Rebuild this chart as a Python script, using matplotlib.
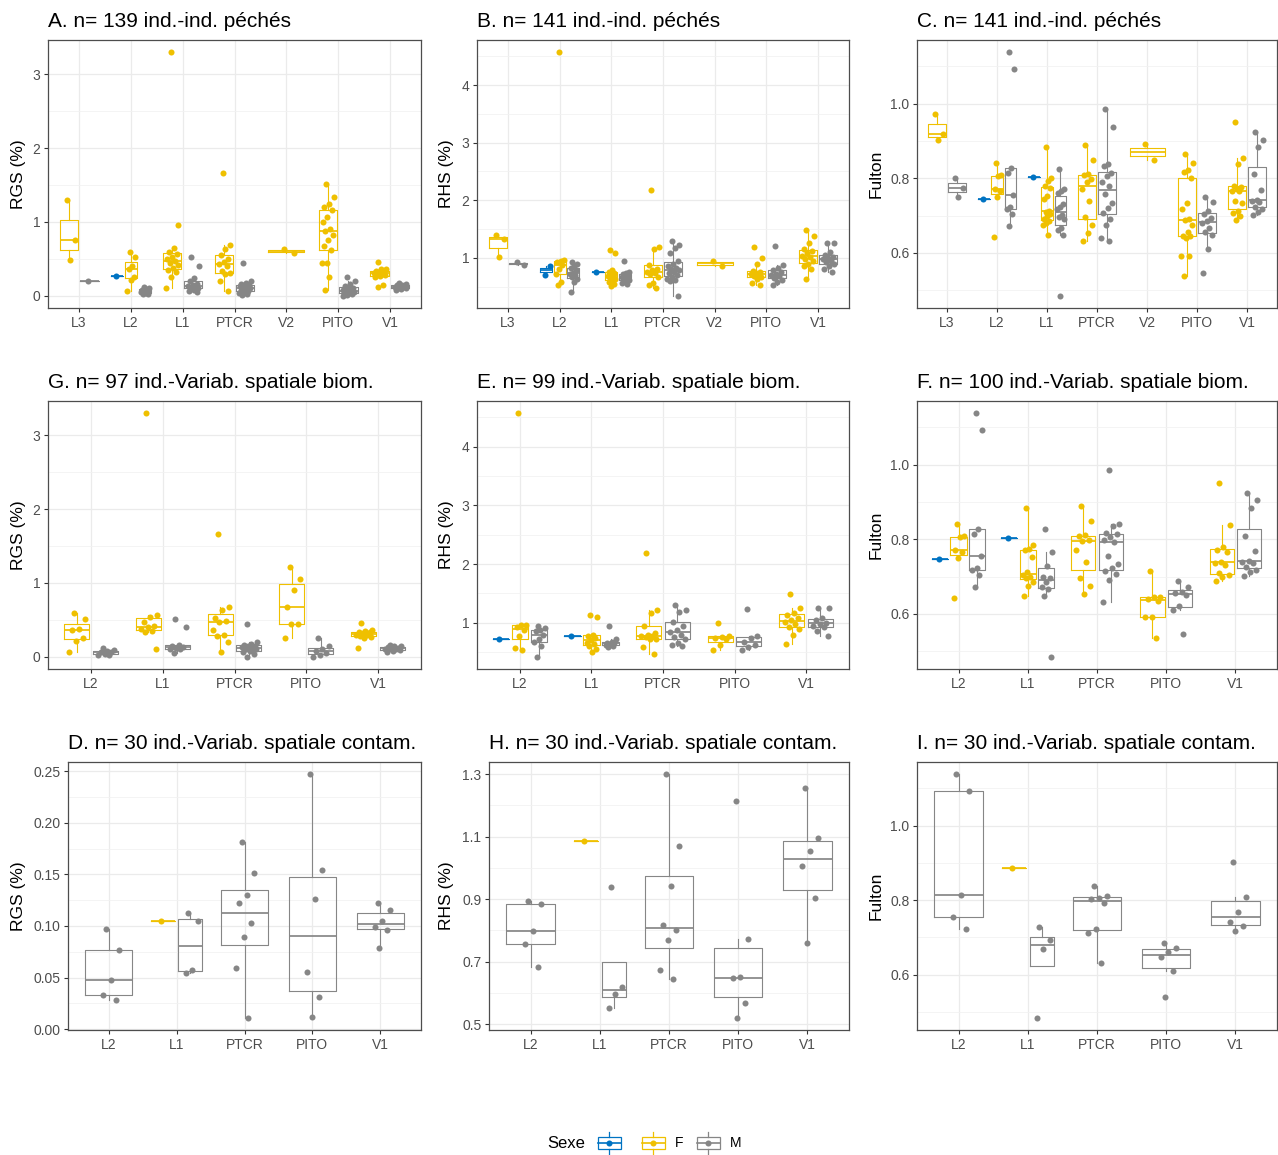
import matplotlib
matplotlib.use("Agg")
import matplotlib.pyplot as plt
import numpy as np
from matplotlib.ticker import FixedLocator, FormatStrFormatter
from matplotlib.patches import Rectangle

plt.rcParams['font.family'] = ['Liberation Sans', 'DejaVu Sans']

# ---------------- data ----------------
sites_top = ["L3", "L2", "L1", "PTCR", "V2", "PITO", "V1"]
sites_sub = ["L2", "L1", "PTCR", "PITO", "V1"]
sex_levels = ["", "F", "M"]

# A. RGS, all fished individuals
A_U = {"L2": [0.27]}
A_F = {"L3": [1.30, 0.75, 0.49],
       "L2": [0.60, 0.52, 0.40, 0.37, 0.26, 0.22, 0.06],
       "L1": [3.30, 0.96, 0.65, 0.60, 0.56, 0.53, 0.50, 0.47, 0.45, 0.42, 0.38, 0.35, 0.32, 0.25, 0.10],
       "PTCR": [1.66, 0.69, 0.64, 0.55, 0.50, 0.46, 0.43, 0.40, 0.34, 0.31, 0.29, 0.20, 0.07],
       "V2": [0.64, 0.585],
       "PITO": [1.52, 1.34, 1.24, 1.20, 1.16, 1.07, 1.00, 0.90, 0.88, 0.82, 0.76, 0.68, 0.62, 0.44, 0.44, 0.25, 0.08],
       "V1": [0.46, 0.37, 0.36, 0.34, 0.33, 0.32, 0.31, 0.30, 0.29, 0.28, 0.27, 0.25, 0.14, 0.12]}
A_M = {"L3": [0.20],
       "L2": [0.12, 0.10, 0.09, 0.08, 0.07, 0.06, 0.05, 0.04, 0.03, 0.02],
       "L1": [0.52, 0.41, 0.24, 0.20, 0.16, 0.14, 0.13, 0.12, 0.11, 0.10, 0.08, 0.06, 0.05],
       "PTCR": [0.44, 0.20, 0.18, 0.16, 0.15, 0.14, 0.13, 0.12, 0.11, 0.10, 0.09, 0.08, 0.07, 0.06, 0.04, 0.02, 0.01],
       "PITO": [0.25, 0.20, 0.16, 0.13, 0.11, 0.09, 0.08, 0.07, 0.06, 0.05, 0.04, 0.03, 0.02, 0.01, 0.00],
       "V1": [0.18, 0.16, 0.15, 0.14, 0.13, 0.13, 0.12, 0.12, 0.11, 0.10, 0.09, 0.08]}

# B. RHS, all fished individuals
B_U = {"L2": [0.71, 0.86], "L1": [0.76]}
B_F = {"L3": [1.40, 1.33, 1.02],
       "L2": [4.57, 0.97, 0.95, 0.93, 0.88, 0.80, 0.72, 0.58, 0.53],
       "L1": [1.14, 1.09, 0.78, 0.76, 0.74, 0.71, 0.69, 0.67, 0.65, 0.63, 0.61, 0.58, 0.55, 0.51],
       "PTCR": [2.17, 1.19, 1.15, 0.87, 0.80, 0.78, 0.76, 0.74, 0.72, 0.67, 0.57, 0.53, 0.47],
       "V2": [0.95, 0.86],
       "PITO": [1.19, 1.00, 0.89, 0.77, 0.75, 0.74, 0.72, 0.71, 0.69, 0.67, 0.63, 0.56, 0.52],
       "V1": [1.48, 1.37, 1.26, 1.15, 1.12, 1.08, 1.04, 1.02, 0.98, 0.94, 0.90, 0.86, 0.80, 0.63]}
B_M = {"L3": [0.93, 0.87],
       "L2": [0.93, 0.90, 0.86, 0.82, 0.78, 0.74, 0.72, 0.70, 0.66, 0.63, 0.58, 0.40],
       "L1": [0.94, 0.76, 0.74, 0.72, 0.70, 0.68, 0.66, 0.65, 0.63, 0.61, 0.59, 0.57, 0.55],
       "PTCR": [1.30, 1.22, 1.17, 1.08, 0.94, 0.90, 0.86, 0.83, 0.80, 0.78, 0.76, 0.73, 0.70, 0.67, 0.64, 0.62, 0.60, 0.34],
       "PITO": [1.21, 0.88, 0.82, 0.78, 0.75, 0.72, 0.70, 0.68, 0.65, 0.62, 0.58, 0.53],
       "V1": [1.26, 1.25, 1.10, 1.05, 1.02, 1.00, 0.98, 0.95, 0.92, 0.90, 0.85, 0.80, 0.75]}

# C. Fulton, all fished individuals
C_U = {"L2": [0.745], "L1": [0.804]}
C_F = {"L3": [0.971, 0.918, 0.903],
       "L2": [0.842, 0.808, 0.805, 0.770, 0.765, 0.750, 0.642],
       "L1": [0.885, 0.800, 0.792, 0.778, 0.775, 0.753, 0.745, 0.713, 0.710, 0.705, 0.698, 0.690, 0.685, 0.680, 0.676, 0.648],
       "PTCR": [0.888, 0.849, 0.811, 0.808, 0.797, 0.790, 0.770, 0.739, 0.696, 0.675, 0.653, 0.633],
       "V2": [0.892, 0.849],
       "PITO": [0.865, 0.842, 0.821, 0.818, 0.800, 0.733, 0.717, 0.690, 0.688, 0.675, 0.655, 0.646, 0.644, 0.640, 0.593, 0.591, 0.537],
       "V1": [0.952, 0.854, 0.838, 0.780, 0.776, 0.772, 0.767, 0.765, 0.738, 0.733, 0.712, 0.706, 0.700, 0.688]}
C_M = {"L3": [0.800, 0.775, 0.749],
       "L2": [1.138, 1.093, 0.827, 0.815, 0.756, 0.722, 0.718, 0.703, 0.671],
       "L1": [0.824, 0.770, 0.765, 0.760, 0.731, 0.722, 0.717, 0.702, 0.695, 0.690, 0.668, 0.662, 0.648, 0.485],
       "PTCR": [0.985, 0.938, 0.838, 0.832, 0.813, 0.806, 0.791, 0.780, 0.757, 0.733, 0.720, 0.708, 0.691, 0.675, 0.639, 0.633],
       "PITO": [0.749, 0.737, 0.711, 0.705, 0.693, 0.685, 0.679, 0.668, 0.655, 0.648, 0.611, 0.546],
       "V1": [0.923, 0.903, 0.885, 0.811, 0.769, 0.742, 0.740, 0.736, 0.724, 0.718, 0.710, 0.702]}

# G. RGS, spatial biometry subset
G_U = {}
G_F = {"L2": [0.60, 0.51, 0.38, 0.37, 0.26, 0.22, 0.07],
       "L1": [3.30, 0.57, 0.54, 0.47, 0.42, 0.40, 0.38, 0.35, 0.33, 0.10],
       "PTCR": [1.66, 0.68, 0.64, 0.52, 0.49, 0.47, 0.36, 0.30, 0.28, 0.20, 0.07],
       "PITO": [1.22, 1.06, 0.90, 0.67, 0.44, 0.44, 0.25],
       "V1": [0.46, 0.37, 0.35, 0.34, 0.33, 0.32, 0.30, 0.29, 0.28, 0.27, 0.25, 0.12]}
G_M = {"L2": [0.12, 0.09, 0.08, 0.07, 0.06, 0.04, 0.03, 0.02],
       "L1": [0.51, 0.41, 0.16, 0.15, 0.13, 0.12, 0.11, 0.10, 0.05],
       "PTCR": [0.44, 0.20, 0.18, 0.16, 0.15, 0.14, 0.13, 0.12, 0.11, 0.10, 0.08, 0.06, 0.04, 0.00],
       "PITO": [0.25, 0.15, 0.10, 0.08, 0.05, 0.02, 0.00],
       "V1": [0.16, 0.15, 0.14, 0.13, 0.12, 0.12, 0.11, 0.11, 0.10, 0.09, 0.08, 0.07]}

# E. RHS, spatial biometry subset
E_U = {"L2": [0.73], "L1": [0.77]}
E_F = {"L2": [4.57, 0.97, 0.96, 0.92, 0.88, 0.78, 0.57, 0.53],
       "L1": [1.14, 1.09, 0.80, 0.77, 0.74, 0.70, 0.66, 0.64, 0.60, 0.55, 0.51],
       "PTCR": [2.19, 1.21, 1.17, 0.95, 0.82, 0.80, 0.78, 0.77, 0.75, 0.73, 0.72, 0.58, 0.47],
       "PITO": [1.00, 0.78, 0.76, 0.74, 0.72, 0.62, 0.53],
       "V1": [1.49, 1.26, 1.16, 1.14, 1.08, 1.04, 1.02, 0.98, 0.93, 0.90, 0.80, 0.63]}
E_M = {"L2": [0.94, 0.91, 0.88, 0.86, 0.80, 0.72, 0.67, 0.60, 0.42],
       "L1": [0.94, 0.72, 0.68, 0.66, 0.65, 0.64, 0.62, 0.60, 0.58],
       "PTCR": [1.30, 1.22, 1.18, 1.02, 0.95, 0.88, 0.84, 0.80, 0.76, 0.72, 0.66, 0.62, 0.60],
       "PITO": [1.23, 0.78, 0.74, 0.68, 0.62, 0.58, 0.53],
       "V1": [1.26, 1.25, 1.08, 1.04, 1.00, 0.98, 0.95, 0.92, 0.86, 0.78]}

# F. Fulton, spatial biometry subset
F_U = {"L2": [0.746], "L1": [0.804]}
F_F = {"L2": [0.842, 0.808, 0.805, 0.770, 0.765, 0.750, 0.642],
       "L1": [0.885, 0.785, 0.775, 0.770, 0.753, 0.711, 0.703, 0.700, 0.697, 0.686, 0.675, 0.649],
       "PTCR": [0.888, 0.849, 0.811, 0.808, 0.797, 0.795, 0.770, 0.739, 0.696, 0.675, 0.653],
       "PITO": [0.715, 0.646, 0.644, 0.639, 0.635, 0.593, 0.591, 0.536],
       "V1": [0.952, 0.837, 0.778, 0.772, 0.765, 0.740, 0.736, 0.732, 0.709, 0.705, 0.700, 0.689]}
F_M = {"L2": [1.138, 1.093, 0.827, 0.815, 0.756, 0.722, 0.718, 0.703, 0.671],
       "L1": [0.827, 0.765, 0.729, 0.700, 0.695, 0.685, 0.671, 0.668, 0.649, 0.485],
       "PTCR": [0.985, 0.840, 0.835, 0.818, 0.813, 0.806, 0.797, 0.792, 0.756, 0.734, 0.722, 0.716, 0.707, 0.691, 0.633],
       "PITO": [0.688, 0.671, 0.660, 0.655, 0.650, 0.620, 0.610, 0.545],
       "V1": [0.923, 0.904, 0.885, 0.810, 0.769, 0.742, 0.740, 0.736, 0.725, 0.718, 0.712, 0.702]}

# D. RGS, spatial contamination subset
D_U = {}
D_F = {"L1": [0.105]}
D_M = {"L2": [0.097, 0.077, 0.048, 0.033, 0.028],
       "L1": [0.113, 0.105, 0.057, 0.054],
       "PTCR": [0.181, 0.151, 0.130, 0.122, 0.103, 0.089, 0.059, 0.011],
       "PITO": [0.247, 0.154, 0.126, 0.055, 0.031, 0.012],
       "V1": [0.122, 0.115, 0.105, 0.0986, 0.096, 0.079]}

# H. RHS, spatial contamination subset
H_U = {}
H_F = {"L1": [1.085]}
H_M = {"L2": [0.893, 0.885, 0.797, 0.757, 0.683],
       "L1": [0.938, 0.619, 0.596, 0.553],
       "PTCR": [1.300, 1.071, 0.941, 0.816, 0.800, 0.768, 0.672, 0.643],
       "PITO": [1.215, 0.773, 0.651, 0.646, 0.569, 0.520],
       "V1": [1.257, 1.095, 1.053, 1.007, 0.903, 0.761]}

# I. Fulton, spatial contamination subset
I_U = {}
I_F = {"L1": [0.885]}
I_M = {"L2": [1.138, 1.094, 0.813, 0.755, 0.722],
       "L1": [0.728, 0.693, 0.668, 0.484],
       "PTCR": [0.838, 0.810, 0.806, 0.802, 0.791, 0.722, 0.713, 0.632],
       "PITO": [0.686, 0.672, 0.660, 0.646, 0.610, 0.541],
       "V1": [0.903, 0.809, 0.767, 0.740, 0.731, 0.718]}

titles = ["A. n= 139 ind.-ind. péchés", "B. n= 141 ind.-ind. péchés", "C. n= 141 ind.-ind. péchés",
          "G. n= 97 ind.-Variab. spatiale biom.", "E. n= 99 ind.-Variab. spatiale biom.",
          "F. n= 100 ind.-Variab. spatiale biom.",
          "D. n= 30 ind.-Variab. spatiale contam.", "H. n= 30 ind.-Variab. spatiale contam.",
          "I. n= 30 ind.-Variab. spatiale contam."]
ylabels = ["RGS (%)", "RHS (%)", "Fulton"] * 3
legend_title = "Sexe"
legend_labels = ["", "F", "M"]

# ---------------- drawing ----------------
W, H = 1278, 1155
fig = plt.figure(figsize=(W / 100, H / 100), dpi=100)

COL = {"": "#0073C2", "F": "#EFC000", "M": "#868686"}
TXT = "#4D4D4D"
PT_S = 19


def frac_rect(l, t, r, b):
    return [l / W, 1 - b / H, (r - l) / W, (b - t) / H]


def panel(rect, sites, groups, yticks, fmt, title, ylabel, ylab_x, title_y):
    l, t, r, b = rect
    ax = fig.add_axes(frac_rect(l, t, r, b))
    allv = []
    for i, site in enumerate(sites):
        present = [s for s in sex_levels if site in groups[s]]
        n = len(present)
        for k, s in enumerate(present):
            vals = np.asarray(groups[s][site], float)
            allv.extend(vals.tolist())
            x = (i + 1) + (k - (n - 1) / 2) * 0.8 / n
            w = 0.7 / n
            c = COL[s]
            ax.boxplot(vals, positions=[x], widths=[w], whis=1.5, showfliers=False,
                       showcaps=False, manage_ticks=False,
                       boxprops=dict(color=c, lw=0.8),
                       whiskerprops=dict(color=c, lw=0.8),
                       medianprops=dict(color=c, lw=1.25),
                       zorder=2)
            half = 0.15 if n == 1 else 0.24 / n
            j = np.arange(len(vals))
            off = (((j * 0.618034 + 0.37) % 1.0) * 2 - 1) * half
            ax.scatter(x + off, vals, s=PT_S, color=c, linewidths=0, zorder=3)
    lo, hi = min(allv), max(allv)
    pad = 0.05 * (hi - lo)
    ax.set_ylim(lo - pad, hi + pad)
    ax.set_xlim(0.4, len(sites) + 0.6)
    ax.set_xticks(np.arange(1, len(sites) + 1))
    ax.set_xticklabels(sites)
    ax.yaxis.set_major_locator(FixedLocator(yticks))
    ax.yaxis.set_major_formatter(FormatStrFormatter(fmt))
    step = yticks[1] - yticks[0]
    minors = np.arange(yticks[0] - step / 2, yticks[-1] + step, step)
    ax.yaxis.set_minor_locator(FixedLocator(minors))
    ax.set_axisbelow(True)
    ax.grid(which='major', color='#EBEBEB', lw=0.9)
    ax.grid(which='minor', axis='y', color='#F2F2F2', lw=0.6)
    ax.tick_params(which='minor', length=0)
    ax.tick_params(which='major', length=3, width=0.8, color='#333333',
                   labelcolor=TXT, labelsize=10, pad=2.5)
    for sp in ax.spines.values():
        sp.set_color('#4D4D4D')
        sp.set_linewidth(0.9)
    fig.text(l / W, 1 - title_y / H, title, fontsize=15, ha='left', va='baseline', color='black')
    fig.text(ylab_x / W, 1 - ((t + b) / 2) / H, ylabel, fontsize=12.5, rotation=90,
             ha='center', va='center', color='black')
    return ax


def grp(u, f, m):
    return {"": u, "F": f, "M": m}


specs = [
    ((48, 40, 421, 308), sites_top, grp(A_U, A_F, A_M), [0, 1, 2, 3], '%d', 19, 27),
    ((477, 40, 849, 308), sites_top, grp(B_U, B_F, B_M), [1, 2, 3, 4], '%d', 447, 27),
    ((917, 40, 1277, 308), sites_top, grp(C_U, C_F, C_M), [0.6, 0.8, 1.0], '%.1f', 876, 27),
    ((48, 401, 421, 669), sites_sub, grp(G_U, G_F, G_M), [0, 1, 2, 3], '%d', 19, 388),
    ((477, 401, 849, 669), sites_sub, grp(E_U, E_F, E_M), [1, 2, 3, 4], '%d', 447, 388),
    ((917, 401, 1277, 669), sites_sub, grp(F_U, F_F, F_M), [0.6, 0.8, 1.0], '%.1f', 876, 388),
    ((68, 762, 421, 1030), sites_sub, grp(D_U, D_F, D_M), [0.0, 0.05, 0.10, 0.15, 0.20, 0.25], '%.2f', 19, 749),
    ((489, 762, 849, 1030), sites_sub, grp(H_U, H_F, H_M), [0.5, 0.7, 0.9, 1.1, 1.3], '%.1f', 447, 749),
    ((917, 762, 1277, 1030), sites_sub, grp(I_U, I_F, I_M), [0.6, 0.8, 1.0], '%.1f', 876, 749),
]

for idx, (rect, sites, groups, yt, fmt, ylx, ty) in enumerate(specs):
    panel(rect, sites, groups, yt, fmt, titles[idx], ylabels[idx], ylx, ty)

# ---------------- legend ----------------
lax = fig.add_axes([0, 0, 1, 1], zorder=-1)
lax.set_xlim(0, W)
lax.set_ylim(H, 0)
lax.axis('off')
cy = 1143
lax.text(547, cy, legend_title, fontsize=12, ha='left', va='center', color='black')
key_x = [609, 653, 708]
for cx, s, lab in zip(key_x, sex_levels, legend_labels):
    c = COL[s]
    lax.plot([cx, cx], [cy - 11, cy - 6], color=c, lw=0.9)
    lax.plot([cx, cx], [cy + 6, cy + 11], color=c, lw=0.9)
    lax.add_patch(Rectangle((cx - 11.5, cy - 6), 23, 12, fill=False, edgecolor=c, lw=0.9))
    lax.plot([cx - 11.5, cx + 11.5], [cy, cy], color=c, lw=1.2)
    lax.scatter([cx], [cy], s=PT_S, color=c, linewidths=0, zorder=3)
    if lab:
        lax.text(cx + 22, cy, lab, fontsize=10, ha='left', va='center', color='black')

fig.savefig("out.png", dpi=100)
